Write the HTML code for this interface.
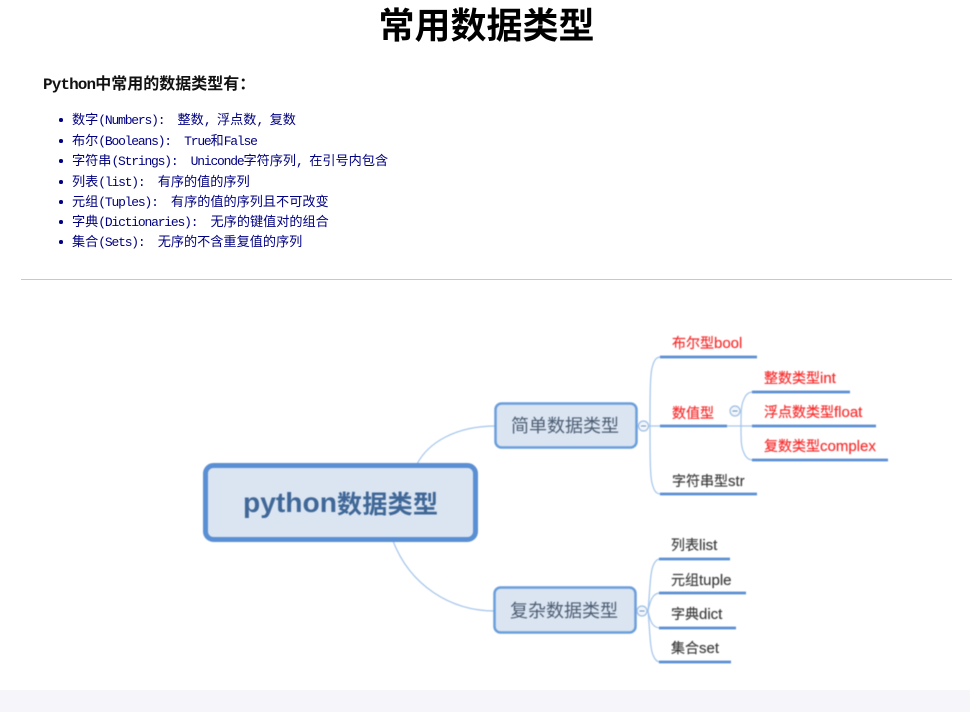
<!DOCTYPE html>
<html lang="zh">
<head>
<meta charset="utf-8">
<title>常用数据类型</title>
<style>
html,body{margin:0;padding:0;background:#fff;}
body{width:970px;height:712px;position:relative;overflow:hidden;font-family:"Liberation Sans","Noto Sans CJK SC",sans-serif;}
h1{position:absolute;left:0;top:0;width:973px;margin:0;text-align:center;font-size:36px;line-height:52px;font-weight:700;color:#000;}
.head{position:absolute;left:43px;top:69px;line-height:26px;font-size:16px;letter-spacing:-.9px;font-weight:700;color:#111;font-family:"Liberation Mono","Noto Sans CJK SC",monospace;white-space:pre;}
.head b{font-size:16px;letter-spacing:0;font-weight:700;font-family:"Noto Sans CJK SC",sans-serif;}
.li{position:absolute;left:72px;height:20px;line-height:20px;font-size:13px;letter-spacing:-1.2px;color:#000080;font-family:"Liberation Mono","Noto Sans CJK SC",monospace;white-space:pre;}
.li b{font-weight:400;font-size:13.15px;letter-spacing:0;font-family:"Noto Sans CJK SC",sans-serif;}
.li:before{content:"";position:absolute;left:-13px;top:9px;width:3.500px;height:3.500px;border-radius:50%;background:#000080;}
hr{position:absolute;left:21px;top:279px;width:931px;height:0;margin:0;border:0;border-top:1px solid #c8c8c8;}
.foot{position:absolute;left:0;top:690px;width:970px;height:22px;background:#f5f5fa;}
svg{position:absolute;left:0;top:0;filter:blur(.45px);}
svg text{font-family:"Liberation Sans","Noto Sans CJK SC",sans-serif;}
</style>
</head>
<body>
<h1>常用数据类型</h1>
<div class="head">Python<b>中常用的数据类型有：</b></div>
<div class="li" style="top:109px"><b>数字</b>(Numbers):  <b>整数</b>, <b>浮点数</b>, <b>复数</b></div>
<div class="li" style="top:130px"><b>布尔</b>(Booleans):  True<b>和</b>False</div>
<div class="li" style="top:150px"><b>字符串</b>(Strings):  Uniconde<b>字符序列</b>, <b>在引号内包含</b></div>
<div class="li" style="top:171px"><b>列表</b>(list):  <b>有序的值的序列</b></div>
<div class="li" style="top:191px"><b>元组</b>(Tuples):  <b>有序的值的序列且不可改变</b></div>
<div class="li" style="top:211px"><b>字典</b>(Dictionaries):  <b>无序的键值对的组合</b></div>
<div class="li" style="top:231px"><b>集合</b>(Sets):  <b>无序的不含重复值的序列</b></div>
<hr>
<svg width="970" height="712" viewBox="0 0 970 712" xmlns="http://www.w3.org/2000/svg">
  <g fill="none" stroke="#a3c4eb" stroke-width="1.200">
    <path d="M417 464C428 443 455 426 496 426"/>
    <path d="M393 541C410 585 450 611 495 611"/>
    <path d="M636 426H650"/>
    <path d="M650 426C650 400 650 376 652 368C654 360 656 357 661 357"/>
    <path d="M650 426C650 452 650 475 652 483C654 491 656 494 661 494"/>
    <path d="M650 426H661"/>
    <path d="M727 426H753"/>
    <path d="M741 426C741 412 741 405 744 399C746 394 749 392 753 392"/>
    <path d="M741 426C741 440 741 447 744 453C746 458 749 460 753 460"/>
    <path d="M635 611H648"/>
    <path d="M648 611C650 590 650 574 653 566C655 561 657 559 660 559"/>
    <path d="M648 611C650 602 652 593 660 593"/>
    <path d="M648 611C650 620 652 628 660 628"/>
    <path d="M648 611C650 632 650 648 653 655C655 660 657 662 660 662"/>
  </g>
  <g fill="#dbe5f2" stroke="#5b8fd3">
    <rect x="205.500" y="465.500" width="270" height="74" rx="8" stroke-width="5"/>
    <rect x="495.500" y="403.500" width="141" height="44" rx="6" stroke-width="2.500" stroke="#6a9edb"/>
    <rect x="494.500" y="587.500" width="141" height="45" rx="6" stroke-width="2.500" stroke="#6a9edb"/>
  </g>
  <g stroke="#5b8fd3" stroke-width="2.800" fill="none">
    <path d="M660 357H757"/>
    <path d="M660 426H727"/>
    <path d="M660 494H757"/>
    <path d="M752 392H850"/>
    <path d="M752 426H876"/>
    <path d="M752 460H888"/>
    <path d="M659 559H730"/>
    <path d="M659 593H746"/>
    <path d="M659 628H736"/>
    <path d="M659 662H731"/>
  </g>
  <g fill="#f2f6fc" stroke="#9dbde3" stroke-width="1.200">
    <circle cx="643.500" cy="426" r="5"/>
    <circle cx="642" cy="611" r="5"/>
    <circle cx="735" cy="411" r="5"/>
  </g>
  <g stroke="#6f8fb5" stroke-width="1">
    <path d="M641 426H646"/>
    <path d="M639.500 611H644.500"/>
    <path d="M732.500 411H737.500"/>
  </g>
  <text x="243" y="512" font-size="28" font-weight="700" fill="#3f6797" textLength="94" lengthAdjust="spacingAndGlyphs">python</text>
  <text x="337" y="513" font-size="25" font-weight="700" fill="#3f6797" textLength="101">数据类型</text>
  <text x="511" y="432" font-size="18" fill="#4d5d73" textLength="108">简单数据类型</text>
  <text x="510" y="617" font-size="18" fill="#4d5d73" textLength="108">复杂数据类型</text>
  <g font-size="14" fill="#f63030" stroke="#f63030" stroke-width=".2">
    <text x="672" y="348">布尔型<tspan font-size="15">bool</tspan></text>
    <text x="672" y="418">数值型</text>
    <text x="764" y="383">整数类型<tspan font-size="15">int</tspan></text>
    <text x="764" y="417">浮点数类型<tspan font-size="15">float</tspan></text>
    <text x="764" y="451">复数类型<tspan font-size="15">complex</tspan></text>
  </g>
  <g font-size="14" fill="#3c3c3c" stroke="#3c3c3c" stroke-width=".15">
    <text x="672" y="486">字符串型<tspan font-size="15">str</tspan></text>
    <text x="671" y="550">列表<tspan font-size="15">list</tspan></text>
    <text x="671" y="585">元组<tspan font-size="15">tuple</tspan></text>
    <text x="671" y="619">字典<tspan font-size="15">dict</tspan></text>
    <text x="671" y="653">集合<tspan font-size="15">set</tspan></text>
  </g>
</svg>
<div class="foot"></div>
</body>
</html>
